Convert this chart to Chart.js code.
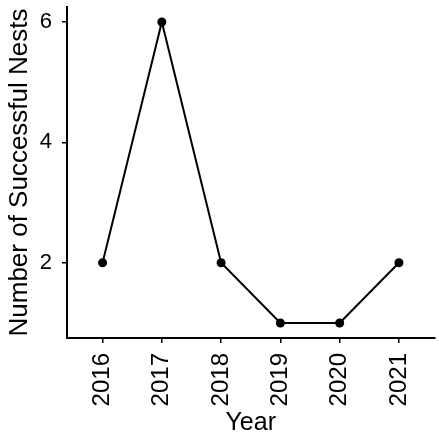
<!DOCTYPE html>
<html>
<head>
<meta charset="utf-8">
<script src="https://cdn.jsdelivr.net/npm/chart.js@4.4.1/dist/chart.umd.min.js"></script>
<style>
  html, body { margin: 0; padding: 0; background: #ffffff; }
  #wrap { width: 439px; height: 440px; }
</style>
</head>
<body>
<div id="wrap"><canvas id="c" width="439" height="440"></canvas></div>
<script>
// Successful nests per year
const years = ['2016', '2017', '2018', '2019', '2020', '2021'];
const nests = [2, 6, 2, 1, 1, 2];
const yTicks = [2, 4, 6];

const points = years.map((y, i) => ({ x: i + 1, y: nests[i] }));
const FONT = "'Liberation Sans', Arial, sans-serif";

// keep the plot panel edges fixed regardless of tick-label overhang
function noOverhang(s) {
  s.paddingTop = 0; s.paddingBottom = 0; s.paddingLeft = 0; s.paddingRight = 0;
}

new Chart(document.getElementById('c'), {
  type: 'line',
  data: {
    datasets: [{
      data: points,
      borderColor: '#000000',
      backgroundColor: '#000000',
      borderWidth: 2,
      pointRadius: 4.5,
      pointHoverRadius: 4.5,
      pointBackgroundColor: '#000000',
      pointBorderWidth: 0,
      tension: 0
    }]
  },
  options: {
    responsive: false,
    animation: false,
    devicePixelRatio: 1,
    layout: { padding: { top: 7, right: 0, bottom: 0, left: 0 } },
    plugins: { legend: { display: false }, tooltip: { enabled: false } },
    scales: {
      x: {
        type: 'linear',
        min: 0.4,
        max: 6.6,
        afterBuildTicks: s => { s.ticks = years.map((_, i) => ({ value: i + 1 })); },
        afterFit: s => { s.height = 102; noOverhang(s); },
        ticks: {
          callback: v => years[v - 1],
          minRotation: 90,
          maxRotation: 90,
          autoSkip: false,
          padding: 10,
          color: '#000000',
          font: { family: FONT, size: 24 }
        },
        grid: { drawOnChartArea: false, drawTicks: true, tickLength: 5, color: '#000000', lineWidth: 1.5 },
        border: { display: true, color: '#000000', width: 2 },
        title: {
          display: true,
          text: 'Year',
          color: '#000000',
          font: { family: FONT, size: 25 },
          padding: { top: 0, bottom: 2 }
        }
      },
      y: {
        type: 'linear',
        min: 0.75,
        max: 6.25,
        afterBuildTicks: s => { s.ticks = yTicks.map(v => ({ value: v })); },
        afterFit: s => { s.width = 67; noOverhang(s); },
        ticks: {
          padding: 10,
          color: '#000000',
          font: { family: FONT, size: 22 }
        },
        grid: { drawOnChartArea: false, drawTicks: true, tickLength: 5, color: '#000000', lineWidth: 1.5 },
        border: { display: true, color: '#000000', width: 2 },
        title: {
          display: true,
          text: 'Number of Successful Nests',
          color: '#000000',
          font: { family: FONT, size: 26 },
          padding: { top: 4, bottom: 0 }
        }
      }
    }
  }
});
</script>
</body>
</html>
